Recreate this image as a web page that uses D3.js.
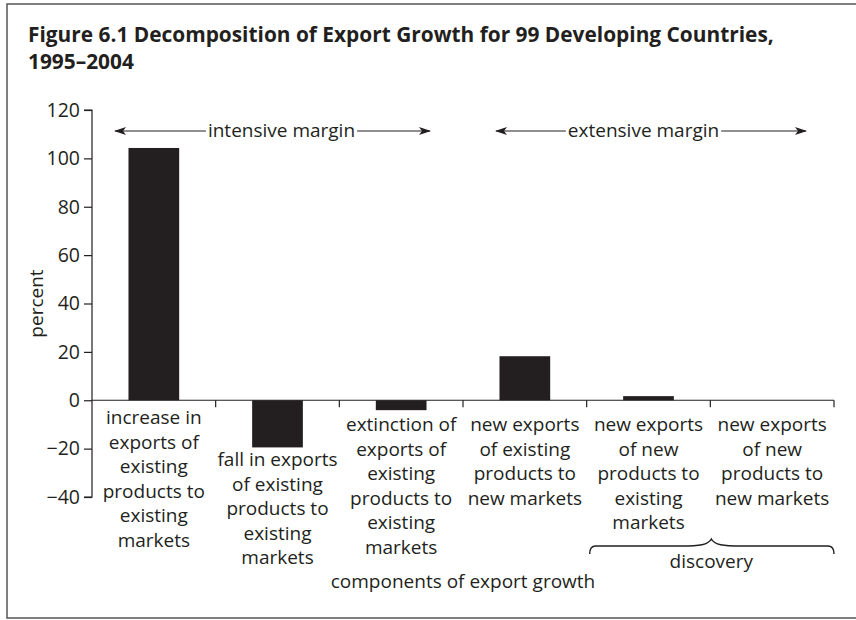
<!DOCTYPE html>
<html>
<head>
<meta charset="utf-8">
<script src="https://cdn.jsdelivr.net/npm/d3@7"></script>
<style>
  body { margin: 0; background: #fff; }
  svg { display: block; font-family: "Open Sans", Lato, sans-serif; }
</style>
</head>
<body>
<svg id="chart" width="856" height="620"></svg>
<script>
// Data
const categories = ["inc", "fall", "ext", "newMkt", "newProdOld", "newProdNew"];
const values = [104.3, -19.5, -4.1, 18.2, 1.7, 0];
const categoryLabels = [
  ["increase in", "exports of", "existing", "products to", "existing", "markets"],
  ["fall in exports", "of existing", "products to", "existing", "markets"],
  ["extinction of", "exports of", "existing", "products to", "existing", "markets"],
  ["new exports", "of existing", "products to", "new markets"],
  ["new exports", "of new", "products to", "existing", "markets"],
  ["new exports", "of new", "products to", "new markets"]
];
const yTicks = [-40, -20, 0, 20, 40, 60, 80, 100, 120];
const titleLines = ["Figure 6.1 Decomposition of Export Growth for 99 Developing Countries,", "1995\u20132004"];
const marginGroups = [
  {label: "intensive margin", from: 0, to: 2},
  {label: "extensive margin", from: 3, to: 5}
];
const braceGroup = {label: "discovery", from: 4, to: 5};
const xTitle = "components of export growth";
const yTitle = "percent";

// Layout
const ink = "#231f20";
const fs = "19px";
const svg = d3.select("#chart");
const plot = {left: 92, right: 834, top: 110, bottom: 497};

// Frame
svg.append("rect")
  .attr("x", 7).attr("y", 4)
  .attr("width", 870).attr("height", 614)
  .attr("fill", "none")
  .attr("stroke", "#555")
  .attr("stroke-width", 1.5);

// Title, sized so the first line ends where the original does
const title = svg.append("g").selectAll("text")
  .data(titleLines)
  .join("text")
  .attr("x", 28)
  .attr("y", (d, i) => 42 + i * 27)
  .attr("font-size", "20px")
  .attr("font-weight", "bold")
  .attr("fill", ink)
  .text(d => d);
const titleW = title.node().getComputedTextLength();
title.attr("font-size", (20 * 746 / titleW).toFixed(2) + "px");

const x = d3.scaleBand()
  .domain(categories)
  .range([plot.left, plot.right])
  .padding(0);

const y = d3.scaleLinear()
  .domain([-40, 120])
  .range([plot.bottom, plot.top]);

const bw = x.bandwidth();
const barW = bw * 0.41;

// Y axis
const yAxis = svg.append("g")
  .attr("transform", `translate(${plot.left},0)`)
  .call(d3.axisLeft(y).tickValues(yTicks).tickSize(8).tickPadding(4)
    .tickFormat(d => d < 0 ? "\u2212" + Math.abs(d) : d));
yAxis.select(".domain").attr("stroke", ink).attr("stroke-width", 1.2)
  .attr("d", `M-8,${plot.top}H0V${plot.bottom}H-8`);
yAxis.selectAll(".tick line").attr("stroke", ink).attr("stroke-width", 1.2);
yAxis.selectAll(".tick text").attr("fill", ink).attr("font-size", "19.5px")
  .attr("font-family", "\"Open Sans\", sans-serif");

// Bars
svg.append("g").selectAll("rect")
  .data(categories)
  .join("rect")
  .attr("x", (d) => x(d) + (bw - barW) / 2)
  .attr("y", (d, i) => y(Math.max(0, values[i])))
  .attr("width", barW)
  .attr("height", (d, i) => Math.abs(y(values[i]) - y(0)))
  .attr("fill", ink);

// X axis: zero line with ticks at category boundaries
const xAxis = svg.append("g");
xAxis.append("line")
  .attr("x1", plot.left).attr("x2", plot.right)
  .attr("y1", y(0)).attr("y2", y(0))
  .attr("stroke", ink).attr("stroke-width", 1.2);
xAxis.selectAll("line.tick")
  .data(categories)
  .join("line")
  .attr("class", "tick")
  .attr("x1", d => x(d) + bw).attr("x2", d => x(d) + bw)
  .attr("y1", y(0)).attr("y2", y(0) + 7)
  .attr("stroke", ink).attr("stroke-width", 1.2);

// Category labels, pushed below negative bars
const lineH = 24.5;
const labels = svg.append("g")
  .attr("font-size", fs)
  .attr("fill", ink)
  .attr("text-anchor", "middle");
categories.forEach((c, i) => {
  let base = Math.max(y(0) + 31, y(values[i]) + 19);
  if (i === 0) base = y(0) + 24;
  labels.append("text")
    .selectAll("tspan")
    .data(categoryLabels[i])
    .join("tspan")
    .attr("x", x(c) + bw / 2)
    .attr("y", (d, j) => base + j * lineH)
    .text(d => d);
});

// Axis titles
svg.append("text")
  .attr("transform", `translate(43,${(plot.top + plot.bottom) / 2}) rotate(-90)`)
  .attr("text-anchor", "middle")
  .attr("font-size", fs)
  .attr("fill", ink)
  .text(yTitle);

svg.append("text")
  .attr("x", (plot.left + plot.right) / 2)
  .attr("y", 588)
  .attr("text-anchor", "middle")
  .attr("font-size", fs)
  .attr("fill", ink)
  .text(xTitle);

// Margin arrows at the top
const defs = svg.append("defs");
defs.append("marker")
  .attr("id", "head")
  .attr("viewBox", "0 0 12 10")
  .attr("refX", 11).attr("refY", 5)
  .attr("markerWidth", 12).attr("markerHeight", 10)
  .attr("markerUnits", "userSpaceOnUse")
  .attr("orient", "auto")
  .append("path")
  .attr("d", "M0,1 L12,5 L0,9 L3,5 Z")
  .attr("fill", ink);

const arrowY = 131;
const arrowInsets = [[23, 33, 4], [33, 28, -5]];
marginGroups.forEach((g, i) => {
  const [inL, inR, shift] = arrowInsets[i];
  const left = x(categories[g.from]) + inL;
  const right = x(categories[g.to]) + bw - inR;
  const cx = x(categories[Math.round((g.from + g.to) / 2)]) + bw / 2 + shift;
  const t = svg.append("text")
    .attr("x", cx).attr("y", arrowY + 6)
    .attr("text-anchor", "middle")
    .attr("font-size", fs)
    .attr("fill", ink)
    .text(g.label);
  const half = t.node().getComputedTextLength() / 2;
  svg.append("line")
    .attr("x1", cx - half - 2).attr("x2", left)
    .attr("y1", arrowY).attr("y2", arrowY)
    .attr("stroke", ink).attr("stroke-width", 1.2)
    .attr("marker-end", "url(#head)");
  svg.append("line")
    .attr("x1", cx + half + 2).attr("x2", right)
    .attr("y1", arrowY).attr("y2", arrowY)
    .attr("stroke", ink).attr("stroke-width", 1.2)
    .attr("marker-end", "url(#head)");
});

// Discovery brace
const bx0 = x(categories[braceGroup.from]) + 3;
const bx1 = x(categories[braceGroup.to]) + bw;
const tip = x(categories[braceGroup.to]) + 1;
const yEnd = 554, yMid = 546, yTip = 539, r = 6;
const bracePath = `M${bx0},${yEnd} Q${bx0},${yMid} ${bx0 + r},${yMid} L${tip - 30},${yMid} ` +
  `C${tip - 12},${yMid} ${tip - 3},${yMid - 1} ${tip},${yTip} C${tip + 3},${yMid - 1} ${tip + 12},${yMid} ${tip + 30},${yMid} ` +
  `L${bx1 - r},${yMid} Q${bx1},${yMid} ${bx1},${yEnd}`;
svg.append("path")
  .attr("d", bracePath)
  .attr("fill", "none")
  .attr("stroke", ink)
  .attr("stroke-width", 1.4);

svg.append("text")
  .attr("x", tip)
  .attr("y", 568)
  .attr("text-anchor", "middle")
  .attr("font-size", fs)
  .attr("fill", ink)
  .text(braceGroup.label);
</script>
</body>
</html>
